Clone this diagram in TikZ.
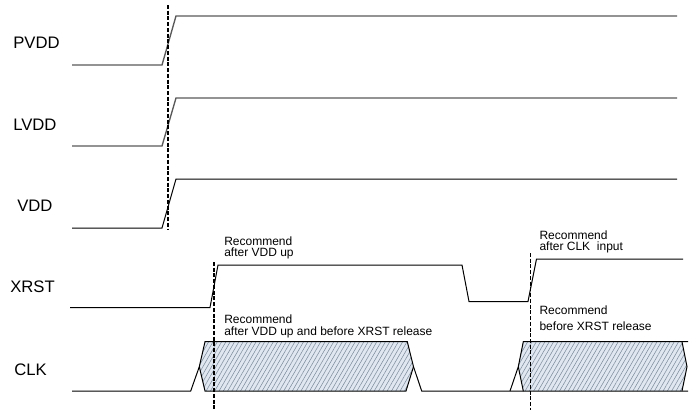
\documentclass[tikz,border=0pt]{standalone}
\usepackage{fontspec}
\setmainfont{Liberation Sans}
\usetikzlibrary{patterns.meta}
\definecolor{hatchbg}{HTML}{E0E7F0}
\definecolor{hatchln}{HTML}{7D8B9B}
\begin{document}
\begin{tikzpicture}[x=0.75pt,y=-0.75pt,
  sig/.style={line width=0.75pt,black,line join=miter},
  sigg/.style={line width=1pt,black!65},
  guide/.style={line width=0.9pt,black,dash pattern=on 3pt off 1.3pt},
  lab/.style={font=\fontsize{12.5}{14}\selectfont,inner sep=0pt,anchor=base west},
  note/.style={font=\fontsize{9}{10}\selectfont,inner sep=0pt,anchor=base west},
  bus/.style={line width=0.75pt,black},
  hatch/.style={pattern={Lines[angle=60,distance=2.8pt,line width=0.4pt]},pattern color=hatchln}]
\useasboundingbox (0,0) rectangle (693,412);

% signal names
\node[lab] (pvdd) at (13,48.3) {PVDD};
\node[lab] (lvdd) at (13,130) {LVDD};
\node[lab] (vdd)  at (17,211.7) {VDD};
\node[lab] (xrst) at (10,292.7) {XRST};
\node[lab] (clk)  at (14,375) {CLK};

% supplies
\draw[sigg] (72,65) -- (162,65) -- (176,16) -- (677,16);
\draw[sigg] (72,146) -- (162,146) -- (176,98) -- (677,98);
\draw[sig]  (72,228) -- (162,228) -- (176,179) -- (677,179);

% XRST
\draw[sig] (70,307.5) -- (210,307.5) -- (218,265) -- (462,265) -- (469,301.5)
  -- (528,301.5) -- (536.5,259) -- (683,259);

% CLK hatched regions
\fill[hatchbg] (199.3,366.7) -- (205,341.7) -- (407.3,341.7) -- (413.5,366.7) -- (406,391) -- (205,391) -- cycle;
\fill[hatch]   (199.3,366.7) -- (205,341.7) -- (407.3,341.7) -- (413.5,366.7) -- (406,391) -- (205,391) -- cycle;
\fill[hatchbg] (518.3,366.7) -- (523.3,341.7) -- (682,341.7) -- (687,366.7) -- (682,391) -- (523.3,391) -- cycle;
\fill[hatch]   (518.3,366.7) -- (523.3,341.7) -- (682,341.7) -- (687,366.7) -- (682,391) -- (523.3,391) -- cycle;

\draw[bus] (72,391) -- (190.7,391) -- (199.3,366.7) -- (205,341.7) -- (407.3,341.7) -- (413.5,366.7) -- (421.7,391) -- (523.3,391);
\draw[bus] (199.3,366.7) -- (205,391) -- (406,391) -- (413.5,366.7);
\draw[bus] (510,391) -- (518.3,366.7) -- (523.3,341.7) -- (688,341.7);
\draw[bus] (518.3,366.7) -- (523.3,391) -- (688,391);
\draw[bus] (682,341.7) -- (687,366.7) -- (682,391);

% guide lines
\coordinate (g1t) at (168,5);   \coordinate (g1b) at (168,230);
\coordinate (g2t) at (214,262); \coordinate (g2b) at (214,410);
\coordinate (g3t) at (530.7,253); \coordinate (g3b) at (530.7,410);
\draw[guide] (g1t) -- (g1b);
\draw[guide] (g2t) -- (g2b);
\draw[guide] (g3t) -- (g3b);

% notes
\node[note] (n1a) at (224,245) {Recommend};
\node[note] (n1b) at (224,256.7) {after VDD up};
\node[note] (n2a) at (224,323.3) {Recommend};
\node[note] (n2b) at (224,335) {after VDD up and before XRST release};
\node[note] (n3a) at (539.3,239.3) {Recommend};
\node[note] (n3b) at (539.3,250.7) {after CLK\ \ input};
\node[note] (n4a) at (539.3,314.3) {Recommend};
\node[note] (n4b) at (539.3,330.7) {before XRST release};
\end{tikzpicture}
\end{document}
